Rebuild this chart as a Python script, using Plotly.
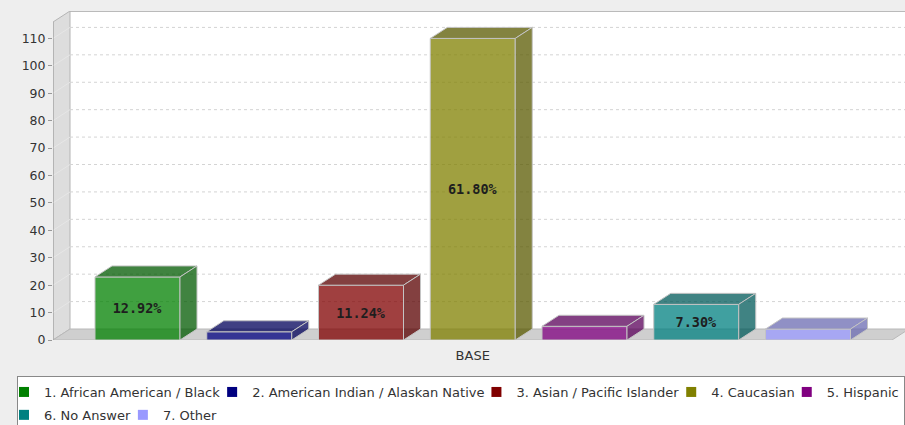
import plotly.graph_objects as go

# ---------------- data ----------------
categories = ["BASE"]
series_names = [
    "1. African American / Black",
    "2. American Indian / Alaskan Native",
    "3. Asian / Pacific Islander",
    "4. Caucasian",
    "5. Hispanic",
    "6. No Answer",
    "7. Other",
]
series_values = [23, 3, 20, 110, 5, 13, 4]
series_colors = ["#008000", "#000080", "#800000", "#808000", "#800080", "#008080", "#9999ff"]
y_ticks = [0, 10, 20, 30, 40, 50, 60, 70, 80, 90, 100, 110]

# ---------------- geometry (pixels) ----------------
W, H = 905, 425
ML, MR, MT, MB = 53, 0, 11, 85
PW, PH = W - ML - MR, H - MT - MB
SLOT_PX = 111.75          # distance between bar centres
FIRST_PX = 84.5           # first bar centre from plot left
BAR_PX = 85               # bar width
DEPTH_X_PX, DEPTH_Y_PX = 17, 11
Y_MAX = 120.0
FLOOR_PX = 839

px_x = 1.0 / SLOT_PX
px_y = Y_MAX / PH
x_lo = -FIRST_PX * px_x
x_hi = (PW - FIRST_PX) * px_x
DX = DEPTH_X_PX * px_x
DY = DEPTH_Y_PX * px_y
BW = BAR_PX * px_x
front_top = Y_MAX - DY
floor_right = x_lo + FLOOR_PX * px_x


def rgba(hex_c, a, f=1.0):
    r, g, b = int(hex_c[1:3], 16), int(hex_c[3:5], 16), int(hex_c[5:7], 16)
    return f"rgba({int(r*f)},{int(g*f)},{int(b*f)},{a})"


def path(pts):
    return "M " + " L ".join(f"{x},{y}" for x, y in pts) + " Z"


total = sum(series_values)
labels = [f"{v / total * 100:.2f}%" if v >= 10 else "" for v in series_values]

fig = go.Figure()
shapes = []

# back wall
shapes.append(dict(type="rect", xref="x", yref="y", x0=x_lo + DX, x1=x_hi + 1, y0=DY, y1=Y_MAX,
                   fillcolor="white", line=dict(width=0), layer="below"))
# left wall
shapes.append(dict(type="path", xref="x", yref="y",
                   path=path([(x_lo, 0), (x_lo, front_top), (x_lo + DX, Y_MAX), (x_lo + DX, DY)]),
                   fillcolor="#dddddd", line=dict(color="#b4b4b4", width=1), layer="below"))
# floor
shapes.append(dict(type="path", xref="x", yref="y",
                   path=path([(x_lo, 0), (floor_right, 0), (floor_right + DX, DY), (x_lo + DX, DY)]),
                   fillcolor="#cfcfcf", line=dict(color="#b8b8b8", width=1), layer="below"))
# gridlines on back wall and left wall
for t in y_ticks:
    if t == 0:
        continue
    shapes.append(dict(type="line", xref="x", yref="y", x0=x_lo + DX, x1=x_hi + 1, y0=t + DY, y1=t + DY,
                       line=dict(color="#d4d4d4", width=1, dash="3px,3px"), layer="below"))
    shapes.append(dict(type="line", xref="x", yref="y", x0=x_lo, x1=x_lo + DX, y0=t, y1=t + DY,
                       line=dict(color="#e6e6e6", width=1), layer="below"))
# top border of back wall
shapes.append(dict(type="line", xref="x", yref="y", x0=x_lo + DX, x1=x_hi + 1, y0=Y_MAX - 0.15, y1=Y_MAX - 0.15,
                   line=dict(color="#b4b4b4", width=1), layer="below"))
# front y axis line
shapes.append(dict(type="line", xref="x", yref="y", x0=x_lo, x1=x_lo, y0=0, y1=front_top,
                   line=dict(color="#a0a0a0", width=1), layer="above"))

# bars (front faces) + 3D faces
for i, (name, v, c, lab) in enumerate(zip(series_names, series_values, series_colors, labels)):
    fig.add_trace(go.Bar(
        x=[i], y=[v], width=BW, name=name, legendgroup=name, showlegend=False,
        marker=dict(color=rgba(c, 0.75), line=dict(color="#c4c4c4", width=1)),
        text=[lab], textposition="inside", insidetextanchor="middle", textangle=0,
        constraintext="none",
        textfont=dict(family="DejaVu Sans Mono", size=13.5, color="#1e1e1e", weight="bold"),
        hoverinfo="skip",
    ))
    x0, x1 = i - BW / 2, i + BW / 2
    dark = rgba(c, 0.75, 0.7)
    shapes.append(dict(type="path", xref="x", yref="y",
                       path=path([(x0, v), (x1, v), (x1 + DX, v + DY), (x0 + DX, v + DY)]),
                       fillcolor=dark, line=dict(color="#c4c4c4", width=1), layer="above"))
    shapes.append(dict(type="path", xref="x", yref="y",
                       path=path([(x1, 0), (x1, v), (x1 + DX, v + DY), (x1 + DX, DY)]),
                       fillcolor=dark, line=dict(color="#c4c4c4", width=1), layer="above"))

# legend entries (solid colours)
for name, c in zip(series_names, series_colors):
    fig.add_trace(go.Scatter(
        x=[None], y=[None], mode="markers", name=name, legendgroup=name,
        marker=dict(symbol="square", size=10, color=c, line=dict(width=0)),
        hoverinfo="skip",
    ))

fig.update_layout(
    width=W, height=H,
    margin=dict(l=ML, r=MR, t=MT, b=MB, pad=0, autoexpand=False),
    paper_bgcolor="#eeeeee", plot_bgcolor="#eeeeee",
    barmode="overlay",
    shapes=shapes,
    font=dict(family="DejaVu Sans", size=13, color="#333333"),
    xaxis=dict(range=[x_lo, x_hi], tickvals=[(len(series_values) - 1) / 2], ticktext=categories,
               showgrid=False, zeroline=False, showline=False, ticks="outside", ticklen=3,
               tickcolor="rgba(0,0,0,0)", tickfont=dict(size=13, color="#333333"), fixedrange=True),
    yaxis=dict(range=[0, Y_MAX], tickvals=y_ticks, showgrid=False, zeroline=False, showline=False,
               ticks="outside", ticklen=4, tickcolor="#999999",
               tickfont=dict(size=12.5, color="#333333"), fixedrange=True),
    legend=dict(orientation="h", traceorder="grouped", tracegroupgap=3,
                x=(17 - ML) / PW, xanchor="left", y=-(376 - (H - MB)) / PH, yanchor="top",
                bgcolor="white", bordercolor="#888888", borderwidth=1,
                indentation=-13, itemwidth=30,
                font=dict(family="DejaVu Sans", size=13, color="#333333")),
    showlegend=True,
)

fig.write_html("out.html", config={"displayModeBar": False},
               post_script="document.body.style.margin='0';")
